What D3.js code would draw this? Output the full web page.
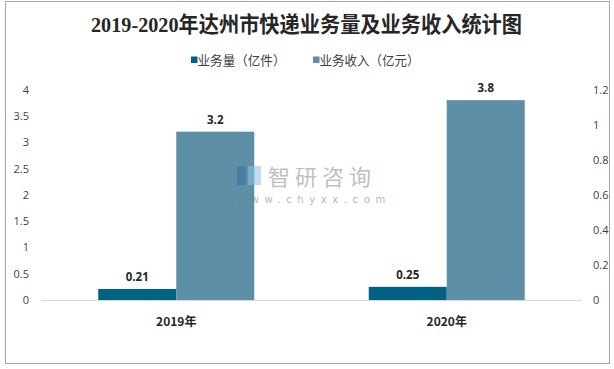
<!DOCTYPE html>
<html><head><meta charset="utf-8">
<script src="https://cdn.jsdelivr.net/npm/d3@7"></script>
<style>body{margin:0;background:#fff}svg{display:block}</style>
</head><body><svg id="c" width="614" height="369"></svg>
<script>
const title = "2019-2020年达州市快递业务量及业务收入统计图";
const categories = ["2019年", "2020年"];
const seriesNames = ["业务量（亿件）", "业务收入（亿元）"];
const volume = [0.21, 0.25];
const revenue = [3.2, 3.8];
const leftTicks = [0, 0.5, 1, 1.5, 2, 2.5, 3, 3.5, 4];
const rightTicks = [0, 0.2, 0.4, 0.6, 0.8, 1, 1.2];
const colors = ["#006283", "#5D90A6"];

const svg = d3.select("#c");
const cjk = "'Noto Sans CJK SC','Noto Sans',sans-serif";
// border
svg.append("rect").attr("x",5.5).attr("y",1.5).attr("width",604).attr("height",362)
  .attr("fill","#fff").attr("stroke","#a6a6a6").attr("stroke-width",1);

svg.append("text").attr("x",91).attr("y",32)
  .attr("font-family","'Liberation Serif','DejaVu Serif','Noto Sans CJK SC',serif")
  .attr("font-size",21.5).attr("font-weight","bold").attr("fill","#262626")
  .attr("textLength",431).attr("lengthAdjust","spacingAndGlyphs").text(title);

// legend
const leg = [{x:191, name:seriesNames[0], c:colors[0], w:88},{x:313, name:seriesNames[1], c:colors[1], w:100}];
leg.forEach(l=>{
  svg.append("rect").attr("x",l.x).attr("y",56.5).attr("width",6.5).attr("height",6.5).attr("fill",l.c);
  svg.append("text").attr("x",l.x+6.5).attr("y",64.5).attr("font-family",cjk).attr("font-size",13)
    .attr("fill","#404040").attr("textLength",l.w).attr("lengthAdjust","spacingAndGlyphs").text(l.name);
});

const x = d3.scaleBand().domain(categories).range([41,582]).padding(0);
const y = d3.scaleLinear().domain([0,4]).range([300,89.6]);
const yR = d3.scaleLinear().domain([0,1.2]).range([300,89.6]);
const barW = 78;

// baseline
svg.append("line").attr("x1",41).attr("x2",582).attr("y1",y(0)+0.5).attr("y2",y(0)+0.5)
  .attr("stroke","#d9d9d9").attr("stroke-width",1);

// axes (labels only)
const axL = svg.append("g").attr("transform","translate(41,0)")
  .call(d3.axisLeft(y).tickValues(leftTicks).tickSize(0).tickPadding(12).tickFormat(d3.format("")));
const axR = svg.append("g").attr("transform","translate(582,0)")
  .call(d3.axisRight(yR).tickValues(rightTicks).tickSize(0).tickPadding(11).tickFormat(d3.format("")));
[axL,axR].forEach(a=>{
  a.select(".domain").remove();
  a.selectAll("text").attr("font-family","'Open Sans','Liberation Sans',sans-serif").attr("font-size",11).attr("fill","#404040");
});

const data = categories.map((c,i)=>({c, v:[volume[i], revenue[i]]}));
const g = svg.append("g");
data.forEach(d=>{
  const cx = x(d.c) + x.bandwidth()/2;
  d.v.forEach((v,j)=>{
    const bx = cx - barW + j*barW;
    g.append("rect").attr("x",bx).attr("y",y(v)).attr("width",barW).attr("height",y(0)-y(v))
      .attr("fill",colors[j]);
    g.append("text").attr("x",bx+barW/2).attr("y",y(v)-8).attr("text-anchor","middle")
      .attr("font-family","'Open Sans','Liberation Sans',sans-serif").attr("font-size",11.5)
      .attr("font-weight","bold").attr("fill","#262626").text(v);
  });
  svg.append("text").attr("x",cx).attr("y",326).attr("text-anchor","middle")
    .attr("font-family",cjk).attr("font-size",12).attr("font-weight","bold").attr("fill","#262626").text(d.c);
});

// watermark
const wm = svg.append("g").attr("opacity",0.55);
wm.append("rect").attr("x",237).attr("y",166).attr("width",9).attr("height",19).attr("fill","#3d6f9e");
wm.append("rect").attr("x",248).attr("y",166).attr("width",13).attr("height",19).attr("fill","#8fc1e6");
wm.append("text").attr("x",268).attr("y",185).attr("font-family",cjk).attr("font-size",22)
  .attr("letter-spacing",5).attr("fill","#8c8c8c").text("智研咨询");
wm.append("text").attr("x",237).attr("y",203).attr("font-family","'DejaVu Sans',sans-serif").attr("font-size",10)
  .attr("letter-spacing",5.6).attr("fill","#7a7a7a").text("www.chyxx.com");
</script></body></html>
